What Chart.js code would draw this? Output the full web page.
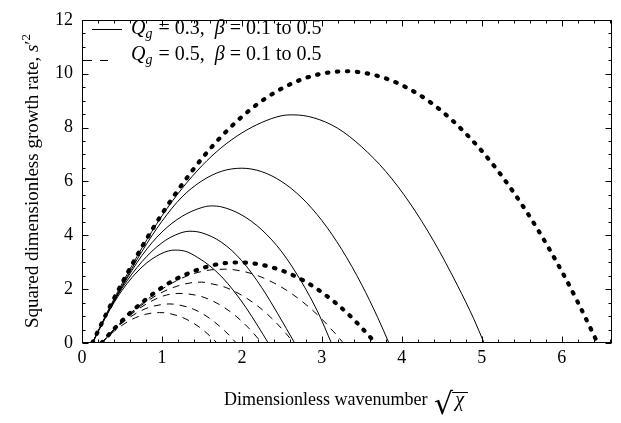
<!DOCTYPE html>
<html><head><meta charset="utf-8">
<script src="https://cdn.jsdelivr.net/npm/chart.js@4.4.1/dist/chart.umd.min.js"></script>
<style>html,body{margin:0;padding:0;background:#fff;}#wrap{width:621px;height:423px;position:relative;}</style>
</head><body><div id="wrap"><canvas id="c" width="621" height="423"></canvas></div>
<script>
// ---- tick labels ----
const xTicks = [0, 1, 2, 3, 4, 5, 6];
const yTicks = [0, 2, 4, 6, 8, 10, 12];

// ---- Qg = 0.3, beta = 0.1 .. 0.5 (solid) ----
const s1X = [0.13,0.3,0.5,0.75,1.0,1.16,1.3,1.45,1.6,1.75,1.9,2.05,2.2,2.33];
const s1Y = [0,0.98,1.95,2.82,3.33,3.45,3.4,3.17,2.86,2.45,1.93,1.32,0.63,0];
const s2X = [0.13,0.3,0.5,0.75,1.0,1.2,1.35,1.5,1.75,2.0,2.25,2.45,2.66];
const s2Y = [0,1.0,2.03,3.02,3.72,4.05,4.15,4.09,3.73,3.05,2.05,1.08,0];
const s3X = [0.13,0.3,0.5,0.75,1.0,1.25,1.5,1.62,1.75,2.0,2.25,2.5,2.75,2.95,3.12];
const s3Y = [0,1.0,2.08,3.25,4.12,4.7,5.03,5.09,5.05,4.75,4.2,3.38,2.25,1.15,0];
const s4X = [0.13,0.3,0.5,0.75,1.0,1.25,1.5,1.75,2.0,2.25,2.5,2.75,3.0,3.25,3.5,3.7,3.84];
const s4Y = [0,1.02,2.12,3.4,4.52,5.42,6.02,6.38,6.49,6.36,5.99,5.39,4.55,3.47,2.16,0.94,0];
const s5X = [0.13,0.3,0.5,0.75,1.0,1.25,1.5,1.75,2.0,2.25,2.5,2.65,2.9,3.2,3.5,3.8,4.1,4.4,4.7,4.9,5.03];
const s5Y = [0,1.05,2.2,3.53,4.72,5.73,6.58,7.27,7.8,8.19,8.44,8.47,8.36,7.97,7.28,6.37,5.2,3.78,2.12,0.9,0];

// ---- Qg = 0.5, beta = 0.1 .. 0.5 (dashed) ----
const d1X = [0.245,0.4,0.6,0.8,1.0,1.2,1.4,1.6,1.8,2.0,2.2,2.4,2.6,2.8,3.0,3.15,3.27];
const d1Y = [0,0.51,1.09,1.58,2.0,2.34,2.58,2.71,2.74,2.67,2.5,2.23,1.88,1.43,0.89,0.41,0];
const d2X = [0.245,0.4,0.6,0.8,1.0,1.2,1.4,1.5,1.6,1.8,2.0,2.2,2.4,2.55,2.65];
const d2Y = [0,0.5,1.07,1.52,1.88,2.12,2.25,2.26,2.21,2.06,1.77,1.37,0.84,0.36,0];
const d3X = [0.245,0.4,0.6,0.8,1.0,1.2,1.3,1.5,1.7,1.9,2.1,2.25];
const d3Y = [0,0.5,1.03,1.44,1.73,1.84,1.83,1.72,1.46,1.06,0.51,0];
const d4X = [0.245,0.4,0.6,0.8,1.0,1.1,1.2,1.4,1.6,1.8,1.93];
const d4Y = [0,0.48,0.96,1.28,1.43,1.45,1.42,1.25,0.91,0.41,0];
const d5X = [0.245,0.4,0.6,0.8,0.97,1.1,1.3,1.5,1.6,1.69];
const d5Y = [0,0.43,0.84,1.07,1.13,1.09,0.89,0.52,0.26,0];

// ---- dotted envelopes ----
const e1X = [0.13,0.3,0.5,0.75,1.0,1.25,1.5,1.75,2.0,2.25,2.5,2.75,3.0,3.3,3.6,3.9,4.2,4.5,4.8,5.1,5.4,5.7,6.0,6.2,6.45];
const e1Y = [0,1.06,2.22,3.57,4.79,5.88,6.85,7.69,8.4,8.99,9.45,9.79,10.0,10.09,9.99,9.71,9.25,8.61,7.78,6.78,5.59,4.22,2.67,1.53,0];
const e2X = [0.245,0.4,0.6,0.8,1.0,1.2,1.4,1.6,1.8,2.0,2.2,2.4,2.6,2.8,3.0,3.2,3.4,3.55,3.67];
const e2Y = [0,0.52,1.11,1.62,2.06,2.41,2.67,2.86,2.97,2.99,2.93,2.79,2.57,2.27,1.88,1.42,0.87,0.4,0];

const X_MAX = 6.63, Y_MAX = 12;
const SERIF = '"Liberation Serif", "Times New Roman", serif';

const pts = (xs, ys) => xs.map((x, i) => ({x, y: ys[i]}));
const solid = (xs, ys) => ({data: pts(xs, ys), borderColor:'#000', borderWidth:1, pointRadius:0, fill:false, cubicInterpolationMode:'monotone'});
const dashed = (xs, ys) => ({data: pts(xs, ys), borderColor:'#000', borderWidth:1, borderDash:[7,6], pointRadius:0, fill:false, cubicInterpolationMode:'monotone'});
const dotted = (xs, ys) => ({data: pts(xs, ys), borderColor:'#000', borderWidth:4.2, borderDash:[1.4,8.6], borderCapStyle:'round', pointRadius:0, fill:false, cubicInterpolationMode:'monotone'});

function richText(ctx, x, y, segs) {
  let cx = x;
  for (const s of segs) {
    ctx.font = s.f;
    ctx.fillText(s.t, cx, y + (s.dy || 0));
    cx += ctx.measureText(s.t).width + (s.gap || 0);
  }
  return cx;
}

const frameTicks = {
  id: 'frameTicks',
  afterDatasetsDraw(chart) {
    const {ctx, chartArea: a, scales: {x, y}} = chart;
    ctx.save();
    ctx.strokeStyle = '#000'; ctx.lineWidth = 1;
    const L = Math.round(a.left) + 0.5, R = Math.round(a.right) - 0.5;
    const T = Math.round(a.top) + 0.5, B = Math.round(a.bottom) - 0.5;
    ctx.strokeRect(L, T, R - L, B - T);
    ctx.beginPath();
    for (let i = 0; i * 0.2 <= X_MAX + 1e-9; i++) {
      const v = i * 0.2;
      const len = (i % 5 === 0) ? 6 : 3;
      const px = Math.round(x.getPixelForValue(v)) + 0.5;
      ctx.moveTo(px, B); ctx.lineTo(px, B - len);
      ctx.moveTo(px, T); ctx.lineTo(px, T + len);
    }
    for (let i = 0; i * 0.5 <= Y_MAX + 1e-9; i++) {
      const v = i * 0.5;
      const len = (i % 4 === 0) ? 6 : 3;
      const py = Math.round(y.getPixelForValue(v)) + 0.5;
      ctx.moveTo(L, py); ctx.lineTo(L + len, py);
      ctx.moveTo(R, py); ctx.lineTo(R - len, py);
    }
    ctx.stroke();

    // legend
    ctx.fillStyle = '#000';
    ctx.textBaseline = 'alphabetic';
    ctx.lineWidth = 1;
    ctx.beginPath(); ctx.moveTo(92, 29.5); ctx.lineTo(122, 29.5); ctx.stroke();
    ctx.beginPath(); ctx.moveTo(84, 60.5); ctx.lineTo(92, 60.5); ctx.moveTo(100, 60.5); ctx.lineTo(108, 60.5); ctx.stroke();
    const it = 'italic 20px ' + SERIF, rm = '20px ' + SERIF, sb = 'italic 14px ' + SERIF;
    richText(ctx, 131, 34, [{t:'Q', f:it}, {t:'g', f:sb, dy:4, gap:1}, {t:' = 0.3,  ', f:rm}, {t:'β', f:it}, {t:' = 0.1 to 0.5', f:rm}]);
    richText(ctx, 131, 60, [{t:'Q', f:it}, {t:'g', f:sb, dy:4, gap:1}, {t:' = 0.5,  ', f:rm}, {t:'β', f:it}, {t:' = 0.1 to 0.5', f:rm}]);

    // x-axis title, centred under the plot area
    const xt = 'Dimensionless wavenumber ';
    ctx.font = '18px ' + SERIF;
    const w1 = ctx.measureText(xt).width;
    ctx.font = '30px "DejaVu Serif", serif';
    const rw = ctx.measureText('√').width;
    ctx.font = 'italic 20px ' + SERIF;
    const cw = ctx.measureText('χ').width;
    const total = w1 + 2 + rw + 2 + cw + 6;
    const x0 = (a.left + a.right) / 2 - total / 2;
    ctx.font = '18px ' + SERIF;
    ctx.fillText(xt, x0, 405);
    const rx = x0 + w1 + 2;
    ctx.font = '30px "DejaVu Serif", serif';
    ctx.fillText('√', rx, 414);
    ctx.font = 'italic 20px ' + SERIF;
    ctx.fillText('χ', rx + rw + 2, 406);
    ctx.beginPath(); ctx.moveTo(rx + rw - 1, 392.5); ctx.lineTo(rx + rw + cw + 6, 392.5); ctx.stroke();

    // y-axis title (rotated)
    ctx.save();
    ctx.translate(38, 181);
    ctx.rotate(-Math.PI / 2);
    const segs = [{t:'Squared dimensionless growth rate, ', f:'19px ' + SERIF}, {t:'s', f:'italic 19px ' + SERIF}, {t:'′', f:'19px ' + SERIF}, {t:'2', f:'13px ' + SERIF, dy:-8}];
    let tw = 0;
    for (const s of segs) { ctx.font = s.f; tw += ctx.measureText(s.t).width; }
    richText(ctx, -tw / 2, 0, segs);
    ctx.restore();
    ctx.restore();
  }
};

new Chart(document.getElementById('c'), {
  type: 'line',
  data: {
    datasets: [
      dotted(e1X, e1Y), dotted(e2X, e2Y),
      solid(s1X, s1Y), solid(s2X, s2Y), solid(s3X, s3Y), solid(s4X, s4Y), solid(s5X, s5Y),
      dashed(d1X, d1Y), dashed(d2X, d2Y), dashed(d3X, d3Y), dashed(d4X, d4Y), dashed(d5X, d5Y)
    ]
  },
  options: {
    responsive: false, animation: false, devicePixelRatio: 1,
    layout: {padding: {left: 0, right: 9, top: 14, bottom: 0}},
    plugins: {legend: {display: false}, tooltip: {enabled: false}},
    scales: {
      x: {
        type: 'linear', min: 0, max: X_MAX,
        afterBuildTicks: s => { s.ticks = xTicks.map(v => ({value: v})); },
        afterFit: s => { s.height = 80; },
        ticks: {color: '#000', font: {family: SERIF, size: 18}, padding: 4, maxRotation: 0, autoSkip: false},
        grid: {display: false, drawTicks: false}, border: {display: false}
      },
      y: {
        type: 'linear', min: 0, max: Y_MAX,
        afterBuildTicks: s => { s.ticks = yTicks.map(v => ({value: v})); },
        afterFit: s => { s.width = 82; },
        ticks: {color: '#000', font: {family: SERIF, size: 18}, padding: 9, autoSkip: false},
        grid: {display: false, drawTicks: false}, border: {display: false}
      }
    }
  },
  plugins: [frameTicks]
});
</script></body></html>
